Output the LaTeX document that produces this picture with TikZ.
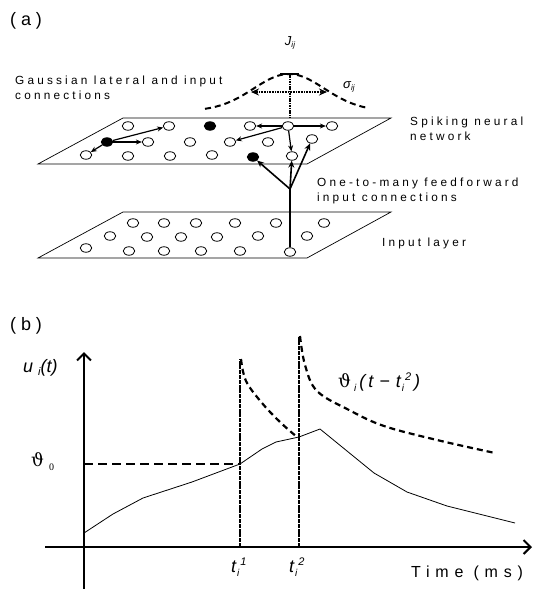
\documentclass[tikz,border=0pt]{standalone}
\usepackage{fontspec}
\setmainfont{Liberation Sans}
\newfontfamily\spc[LetterSpace=27]{Liberation Sans}
\newfontfamily\spcw[LetterSpace=36]{Liberation Sans}
\newfontfamily\thf{DejaVu Serif}
\newfontfamily\serf{Liberation Serif}
\usetikzlibrary{arrows.meta,shapes.geometric}
\newcommand\mylo[2]{\raisebox{-#1}{#2}}
\begin{document}
\begin{tikzpicture}[x=1pt,y=-1pt,
  neuron/.style={draw,ellipse,minimum width=11.5pt,minimum height=8.5pt,inner sep=0pt,line width=0.8pt,fill=white},
  fneuron/.style={neuron,fill=black},
  plane/.style={draw,line width=0.7pt},
  lbl/.style={font=\spc\fontsize{11.8}{15}\selectfont,inner sep=0pt,align=left},
  conn/.style={line width=1.2pt,-{Stealth[length=6pt,width=5pt]}},
  ffconn/.style={line width=1.6pt,-{Stealth[length=7pt,width=6pt]}},
  ffline/.style={line width=1.6pt},
  title/.style={font=\spc\fontsize{18}{18}\selectfont,inner sep=0pt,anchor=west},
  dashcurve/.style={line width=2.2pt,dash pattern=on 6pt off 4pt},
  spike/.style={line width=2.6pt,dash pattern=on 4pt off 0.8pt},
  axis/.style={-{Straight Barb[length=7pt,width=14pt,line width=2pt]}},
  mlab/.style={inner sep=0pt,anchor=west}
]
\useasboundingbox (0,0) rectangle (548,589);

% ---------------- (a) ----------------
\node[title] (ta) at (10,21) {(a)};

% planes
\draw[plane] (123,118) -- (391,118) -- (307,164) -- (38,164) -- cycle;
\draw[plane] (123,212) -- (391,212) -- (307,258) -- (38,258) -- cycle;

% spiking network neurons
\node[neuron]  (n11) at (128,126) {};
\node[neuron]  (n12) at (169,126) {};
\node[fneuron] (n13) at (210,126) {};
\node[neuron]  (n14) at (250,126) {};
\node[neuron]  (n15) at (288,126) {};
\node[neuron]  (n16) at (332,126) {};
\node[fneuron] (n21) at (107,142) {};
\node[neuron]  (n22) at (148,142) {};
\node[neuron]  (n23) at (190,142) {};
\node[neuron]  (n24) at (230,142) {};
\node[neuron]  (n25) at (268,142) {};
\node[neuron]  (n26) at (312,139) {};
\node[neuron]  (n31) at (86,155) {};
\node[neuron]  (n32) at (128,156) {};
\node[neuron]  (n33) at (170,156) {};
\node[neuron]  (n34) at (212,155) {};
\node[fneuron] (n35) at (253,157) {};
\node[neuron]  (n36) at (292,156) {};

% input layer neurons
\node[neuron] (i11) at (133,223) {};
\node[neuron] (i12) at (164,223) {};
\node[neuron] (i13) at (196,223) {};
\node[neuron] (i14) at (235,223) {};
\node[neuron] (i15) at (276,223) {};
\node[neuron] (i16) at (324,223) {};
\node[neuron] (i21) at (110,236) {};
\node[neuron] (i22) at (147,237) {};
\node[neuron] (i23) at (181,237) {};
\node[neuron] (i24) at (217,237) {};
\node[neuron] (i25) at (258,236) {};
\node[neuron] (i26) at (307,236) {};
\node[neuron] (i31) at (86,248) {};
\node[neuron] (i32) at (129,251) {};
\node[neuron] (i33) at (164,251) {};
\node[neuron] (i34) at (201,251) {};
\node[neuron] (i35) at (240,251) {};
\node[neuron] (i36) at (290,252) {};

% lateral connections
\draw[conn] (n21) -- (n12);
\draw[conn] (n21) -- (n22);
\draw[conn] (n21) -- (n31);
\draw[conn] (n15) -- (n14);
\draw[conn] (n15) -- (n16);
\draw[conn] (n15) -- (n24);
\draw[conn] (n15) -- (n36);

% feedforward
\coordinate (br) at (290,189);
\draw[ffline] (i36) -- (br);
\draw[ffconn] (br) -- (n36);
\draw[ffconn] (br) -- (n26);
\draw[ffconn] (br) -- (n35);

% gaussian
\draw[line width=2pt,dash pattern=on 6pt off 4pt]
  plot[domain=205:368,samples=70] (\x,{111-37*exp(-((\x-289)/50)^2)});
\coordinate (gt) at (290,74);
\coordinate (gb) at (290,118);
\draw[line width=2.8pt,dash pattern=on 1.6pt off 0.8pt] (gt) -- (gb);
\draw[line width=2.2pt] (280,74) -- (299,74);
\coordinate (gl) at (251,92);
\coordinate (gr) at (327,92);
\draw[line width=2.2pt,dash pattern=on 1pt off 0.6pt,{Stealth[length=8pt,width=7pt]}-{Stealth[length=8pt,width=7pt]}] (gl) -- (gr);
\node[mlab,anchor=center] (jij) at (290,43) {\fontsize{13}{13}\selectfont\itshape J\mylo{2pt}{\fontsize{8}{8}\selectfont ij}};
\node[mlab] (sig) at (343,87) {\fontsize{13}{13}\selectfont\itshape σ\mylo{2pt}{\fontsize{8}{8}\selectfont ij}};

% labels
\node[lbl,anchor=north west] (lg) at (15,75.5) {Gaussian lateral and input\\connections};
\node[lbl,anchor=north west] (ls) at (410,116.5) {Spiking neural\\network};
\node[lbl,anchor=north west] (lf) at (317,177.5) {One-to-many feedforward\\input connections};
\node[lbl,anchor=base west] (li) at (382,246) {Input layer};

% ---------------- (b) ----------------
\node[title] (tb) at (10,326) {(b)};

\coordinate (vb) at (84,589);
\coordinate (vt) at (84,352);
\coordinate (hl) at (45,547);
\coordinate (hr) at (532,547);
\draw[line width=2.8pt,axis] (vb) -- (vt);
\draw[line width=1.6pt,axis] (hl) -- (hr);

% threshold
\coordinate (th0) at (84,464);
\coordinate (th1) at (240,464);
\draw[line width=1.8pt,dash pattern=on 9pt off 5pt] (th0) -- (th1);

% spikes
\coordinate (s1b) at (240,547);
\coordinate (s1t) at (240,359);
\coordinate (s2b) at (299,547);
\coordinate (s2t) at (299,336);
\draw[spike] (s1b) -- (s1t);
\draw[spike] (s2b) -- (s2t);

% threshold decays
\draw[dashcurve] plot[smooth,tension=0.6] coordinates {(241,359) (246,381) (262,403) (280,422) (297,437)};
\draw[dashcurve] plot[smooth,tension=0.6] coordinates {(300,336) (305,365) (317,391) (349,410) (384,426) (437,440) (495,453)};

% membrane potential
\draw[line width=0.8pt] (84,533) -- (113,514) -- (143,498) -- (192,482) -- (240,464)
  -- (262,449) -- (276,442) -- (299,437) -- (320,429) -- (347,451) -- (374,473)
  -- (407,492) -- (447,506) -- (515,523);

% labels
\node[mlab] (ul) at (23,368) {\fontsize{18}{18}\selectfont\itshape u\hspace{5pt}\mylo{3pt}{\fontsize{11}{11}\selectfont i}(t)};
\node[mlab] (th) at (31,462) {\fontsize{18}{18}\selectfont\thf ϑ\hspace{5pt}\mylo{4pt}{\fontsize{10}{10}\selectfont\serf 0}};
\node[mlab] (thl) at (338,382) {\fontsize{18}{18}\selectfont{\thf ϑ}\hspace{3pt}\mylo{4pt}{\fontsize{10}{10}\selectfont\itshape i}\hspace{3pt}\itshape(\hspace{3pt}t\hspace{6pt}−\hspace{6pt}t\hspace{1pt}\mylo{4pt}{\fontsize{10}{10}\selectfont i}\hspace{1pt}\raisebox{7pt}{\fontsize{11}{11}\selectfont 2}\hspace{3pt})};
\node[mlab] (t1) at (231,567) {\fontsize{18}{18}\selectfont\itshape t\hspace{1pt}\mylo{4pt}{\fontsize{10}{10}\selectfont i}\hspace{1pt}\raisebox{7pt}{\fontsize{11}{11}\selectfont 1}};
\node[mlab] (t2) at (289,567) {\fontsize{18}{18}\selectfont\itshape t\hspace{1pt}\mylo{4pt}{\fontsize{10}{10}\selectfont i}\hspace{1pt}\raisebox{7pt}{\fontsize{11}{11}\selectfont 2}};
\node[mlab] (tm) at (411,573) {\spcw\fontsize{16}{16}\selectfont Time (ms)};
\end{tikzpicture}
\end{document}
